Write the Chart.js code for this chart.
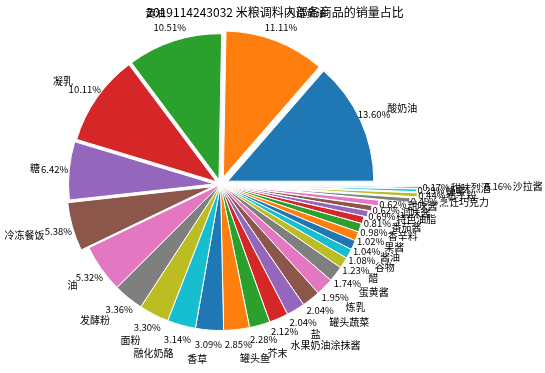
<!DOCTYPE html>
<html><head><meta charset="utf-8">
<script src="https://cdn.jsdelivr.net/npm/chart.js@4.4.1/dist/chart.umd.min.js"></script>
<style>html,body{margin:0;padding:0;background:#fff}#wrap{width:545px;height:373px}</style>
</head><body><div id="wrap"><canvas id="c" width="545" height="373"></canvas></div>
<script>
const titleText = '2019114243032 米粮调料内部各商品的销量占比';
const categories = ['酸奶油','人造黄油','黄油','凝乳','糖','冷冻餐饭','油','发酵粉','面粉','融化奶酪','香草','罐头鱼','芥末','水果奶油涂抹酱','盐','罐头蔬菜','炼乳','蛋黄酱','醋','谷物','酱油','果酱','香辛料','番茄酱','特色油脂','调味酱','甜味酱','烹饪巧克力','布丁粉','蜂蜜','甜味烈酒','沙拉酱'];
const shares = [13.60,11.11,10.51,10.11,6.42,5.38,5.32,3.36,3.30,3.14,3.09,2.85,2.28,2.12,2.04,2.04,1.95,1.74,1.23,1.08,1.04,1.02,0.98,0.81,0.69,0.62,0.62,0.49,0.44,0.29,0.17,0.16];
const explode = [8,8,5,5,6,8,0,0,0,0,0,0,0,0,0,0,0,0,0,0,0,0,0,1,4,7,13,44,51,50,55,117];
const palette = ['#1f77b4','#ff7f0e','#2ca02c','#d62728','#9467bd','#8c564b','#e377c2','#7f7f7f','#bcbd22','#17becf'];

// matplotlib draws counter-clockwise from 3 o'clock; Chart.js clockwise -> reverse order
const order = shares.map((_, i) => i).reverse();

// explode: translate each arc along its mid angle by its offset (like matplotlib's explode)
const baseDraw = Chart.ArcElement.prototype.draw;
Chart.ArcElement.prototype.draw = function (ctx) {
  const orig = this.options;
  const d = orig.offset || 0;
  const mid = (this.startAngle + this.endAngle) / 2;
  this.options = Object.assign({}, orig, { offset: 0 });
  ctx.save();
  ctx.translate(Math.cos(mid) * d, Math.sin(mid) * d);
  baseDraw.call(this, ctx);
  ctx.restore();
  this.options = orig;
};

const FONT = '"Noto Sans CJK SC", "Noto Sans", sans-serif';
const labelPlugin = {
  id: 'pieLabels',
  afterDatasetsDraw(chart) {
    const ctx = chart.ctx;
    const meta = chart.getDatasetMeta(0);
    ctx.save();
    ctx.fillStyle = '#000';
    ctx.textBaseline = 'middle';
    meta.data.forEach((arc, k) => {
      const i = order[k];
      const mid = (arc.startAngle + arc.endAngle) / 2;
      const d = explode[i];
      const cx = arc.x + Math.cos(mid) * d;
      const cy = arc.y + Math.sin(mid) * d;
      const R = arc.outerRadius;
      const px = cx + Math.cos(mid) * R * 1.1, py = cy + Math.sin(mid) * R * 1.1;
      const nx = cx + Math.cos(mid) * R * 1.2, ny = cy + Math.sin(mid) * R * 1.2;
      ctx.font = '9.5px ' + FONT;
      ctx.textAlign = 'center';
      ctx.fillText(shares[i].toFixed(2) + '%', px, py);
      ctx.font = '10px ' + FONT;
      ctx.textAlign = nx > arc.x ? 'left' : 'right';
      ctx.fillText(categories[i], nx, ny);
    });
    ctx.font = '12px ' + FONT;
    ctx.textAlign = 'center';
    ctx.fillText(titleText, 275, 12);
    ctx.restore();
  }
};

function make() {
  new Chart(document.getElementById('c'), {
    type: 'pie',
    data: {
      labels: order.map(i => categories[i]),
      datasets: [{
        data: order.map(i => shares[i]),
        backgroundColor: order.map(i => palette[i % 10]),
        offset: order.map(i => explode[i]),
        borderColor: '#ffffff',
        borderWidth: 1
      }]
    },
    options: {
      responsive: false,
      animation: false,
      events: [],
      rotation: 90,
      radius: 146,
      layout: { padding: { left: 0, right: 104, top: 0, bottom: 4 } },
      plugins: { legend: { display: false }, tooltip: { enabled: false }, title: { display: false } }
    },
    plugins: [labelPlugin]
  });
}
if (document.fonts && document.fonts.load) {
  Promise.all([document.fonts.load('10px "Noto Sans CJK SC"', '米粮'), document.fonts.load('10px "Noto Sans"', '0')]).then(make, make);
} else { make(); }
</script>
</body></html>
